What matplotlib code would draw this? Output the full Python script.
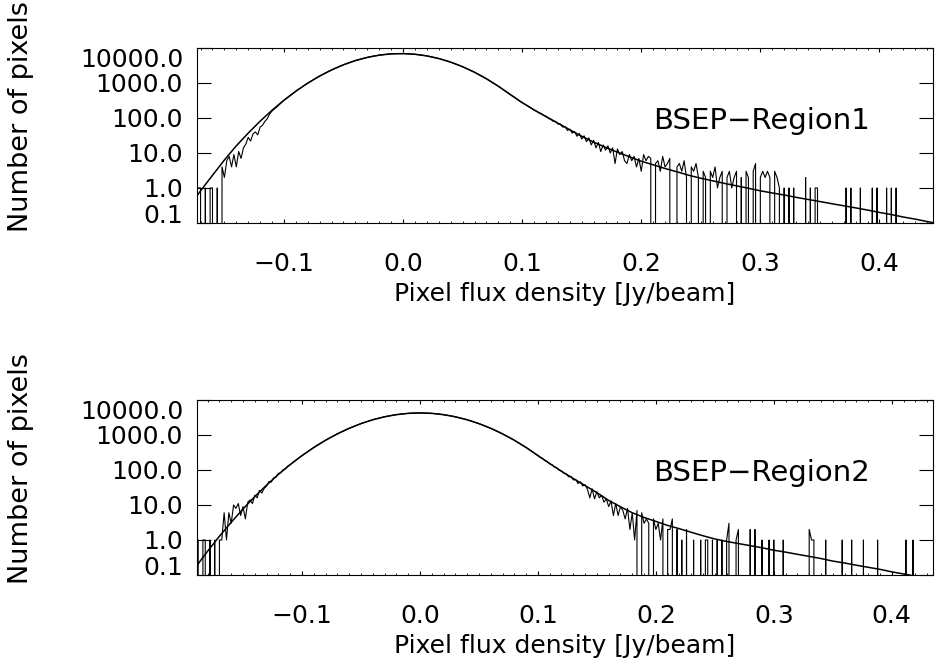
import numpy as np
import matplotlib
matplotlib.use("Agg")
import matplotlib.pyplot as plt
from matplotlib.ticker import MultipleLocator, NullFormatter

# histogram layout (bin width in Jy/beam, centre of the first bin)
bin_width = 0.002
first_bin1 = -0.172
first_bin2 = -0.188

# pixel counts per bin, BSEP-Region1
counts1 = [
    1, 1, 0, 1, 0, 1, 1, 0, 1, 0,
    4, 2, 6, 8, 4, 9, 4, 11, 7, 14,
    18, 28, 22, 35, 40, 33, 55, 62, 80, 95,
    130, 158, 182, 205, 240, 275, 318, 356, 402, 458,
    515, 580, 652, 720, 805, 895, 988, 1093, 1196, 1320,
    1445, 1578, 1718, 1866, 2023, 2188, 2360, 2535, 2723, 2911,
    3112, 3311, 3516, 3724, 3936, 4150, 4365, 4571, 4786, 4989,
    5188, 5383, 5572, 5754, 5929, 6081, 6237, 6368, 6501, 6607,
    6699, 6776, 6839, 6887, 6903, 6918, 6903, 6887, 6839, 6776,
    6699, 6607, 6501, 6368, 6237, 6081, 5929, 5754, 5572, 5383,
    5188, 4989, 4786, 4571, 4365, 4150, 3936, 3724, 3516, 3311,
    3112, 2911, 2723, 2535, 2360, 2188, 2023, 1866, 1718, 1578,
    1445, 1318, 1199, 1091, 991, 893, 807, 724, 650, 582,
    525, 466, 424, 378, 341, 303, 277, 249, 231, 205,
    188, 168, 157, 139, 134, 118, 112, 97, 93, 80,
    80, 67, 68, 55, 57, 44, 48, 37, 41, 30,
    36, 25, 31, 21, 27, 17, 23, 14, 20, 11,
    17, 12, 16, 10, 14, 5, 13, 9, 11, 6,
    5, 9, 6, 8, 4, 7, 3, 9, 6, 8,
    7, 0, 5, 6, 3, 8, 4, 5, 7, 0,
    0, 4, 5, 3, 6, 2, 0, 4, 3, 5,
    2, 0, 3, 2, 0, 3, 2, 4, 1, 2,
    3, 0, 2, 3, 1, 2, 3, 0, 2, 0,
    3, 2, 0, 3, 5, 0, 2, 3, 2, 3,
    2, 0, 3, 2, 1, 0, 1, 0, 1, 0,
    1, 0, 0, 0, 0, 2, 0, 1, 0, 1,
    1, 0, 0, 0, 0, 0, 0, 0, 0, 0,
    0, 0, 1, 0, 1, 0, 0, 0, 1, 0,
    0, 0, 0, 1, 0, 1, 0, 0, 0, 1,
    0, 1, 0, 1, 0, 0, 0, 0, 0, 0,
    0, 0, 0, 0, 0, 0, 0, 0, 0,
]

# pixel counts per bin, BSEP-Region2
counts2 = [
    1, 0, 1, 1, 0, 1, 0, 1, 0, 1,
    1, 6, 1, 6, 3, 10, 8, 11, 5, 9,
    4, 12, 14, 11, 19, 16, 26, 22, 30, 35,
    47, 45, 60, 62, 80, 83, 101, 108, 130, 140,
    161, 182, 205, 230, 257, 288, 321, 356, 396, 439,
    485, 535, 589, 646, 708, 773, 843, 916, 995, 1076,
    1164, 1256, 1351, 1449, 1552, 1660, 1770, 1879, 1995, 2113,
    2234, 2355, 2477, 2600, 2723, 2844, 2965, 3083, 3199, 3311,
    3420, 3532, 3631, 3724, 3811, 3890, 3972, 4036, 4093, 4150,
    4188, 4227, 4246, 4266, 4266, 4266, 4246, 4227, 4188, 4150,
    4093, 4036, 3972, 3890, 3811, 3724, 3631, 3532, 3420, 3311,
    3199, 3083, 2965, 2844, 2723, 2600, 2477, 2355, 2234, 2113,
    1995, 1879, 1770, 1660, 1552, 1449, 1351, 1256, 1164, 1076,
    995, 916, 843, 773, 708, 646, 589, 535, 485, 439,
    398, 355, 325, 286, 262, 228, 214, 186, 172, 150,
    141, 122, 116, 98, 94, 80, 78, 64, 66, 52,
    54, 41, 46, 35, 38, 28, 16, 29, 15, 24,
    16, 19, 12, 15, 9, 13, 5, 11, 5, 9,
    7, 4, 8, 2, 6, 1, 7, 0, 6, 3,
    4, 3, 0, 4, 2, 3, 1, 4, 0, 2,
    2, 4, 0, 2, 0, 1, 0, 2, 0, 0,
    1, 0, 0, 1, 0, 1, 1, 0, 1, 0,
    1, 0, 1, 0, 1, 3, 0, 0, 1, 2,
    0, 0, 0, 0, 2, 0, 2, 0, 0, 1,
    0, 0, 1, 0, 1, 0, 0, 0, 1, 0,
    0, 0, 0, 0, 0, 0, 0, 0, 0, 2,
    1, 1, 0, 0, 0, 0, 1, 0, 0, 0,
    0, 0, 0, 1, 0, 0, 0, 1, 0, 0,
    0, 0, 1, 0, 0, 0, 0, 0, 1, 0,
    0, 0, 0, 0, 0, 0, 0, 0, 0, 0,
    1, 0, 0, 1, 0, 0, 0, 0, 0, 0,
    0, 0,
]

# fitted model curves, sampled every 0.01 Jy/beam
fit_x1 = np.round(np.arange(-0.18, 0.455, 0.01), 2)
fit_y1 = [0.28, 0.83, 2.3, 6.3, 16, 37, 81, 166, 322, 582,
          991, 1578, 2360, 3311, 4365, 5383, 6237, 6776, 6903, 6607,
          5929, 4989, 3936, 2911, 2023, 1318, 807, 468, 275, 170,
          110, 71, 46, 30, 20.4, 14.5, 10.5, 7.8, 5.8, 4.6,
          3.6, 2.9, 2.3, 1.9, 1.6, 1.35, 1.15, 0.98, 0.83, 0.72,
          0.63, 0.54, 0.47, 0.41, 0.355, 0.31, 0.27, 0.234, 0.20, 0.174,
          0.148, 0.129, 0.11, 0.095]
fit_x2 = np.round(np.arange(-0.19, 0.435, 0.01), 2)
fit_y2 = [0.17, 0.48, 1.28, 3.2, 7.7, 17.4, 37, 75, 143, 257,
          439, 708, 1076, 1552, 2113, 2723, 3311, 3811, 4150, 4266,
          4150, 3811, 3311, 2723, 2113, 1552, 1076, 708, 439, 258,
          153, 92, 57, 36, 22.5, 13.5, 8.9, 6.0, 4.4, 3.4,
          2.6, 2.1, 1.66, 1.32, 1.07, 0.91, 0.79, 0.69, 0.60, 0.51,
          0.45, 0.39, 0.34, 0.295, 0.25, 0.22, 0.19, 0.166, 0.145, 0.123,
          0.107, 0.093, 0.081]

region_names = ["BSEP\u2212Region1", "BSEP\u2212Region2"]
x_ranges = [(-0.173, 0.445), (-0.189, 0.435)]

xticks = [-0.1, 0.0, 0.1, 0.2, 0.3, 0.4]
xtick_labels = ["\u22120.1", "0.0", "0.1", "0.2", "0.3", "0.4"]
yticks = [0.1, 1, 10, 100, 1000, 10000]
ytick_labels = ["0.1", "1.0", "10.0", "100.0", "1000.0", "10000.0"]

plt.rcParams['font.family'] = 'DejaVu Sans'
plt.rcParams['axes.linewidth'] = 0.8

fig = plt.figure(figsize=(9.35, 6.7), dpi=100)
rects = [[0.2107, 0.6672, 0.7872, 0.2612], [0.2107, 0.1418, 0.7872, 0.2612]]

panels = [(counts1, first_bin1, fit_x1, fit_y1), (counts2, first_bin2, fit_x2, fit_y2)]

for i, (counts, first, fx, fy) in enumerate(panels):
    ax = fig.add_axes(rects[i])
    centers = first + bin_width * np.arange(len(counts))
    # IDL-style: histogram drawn as a plain polyline through the bin centres
    ax.plot(centers, counts, color='black', lw=0.8)
    ax.plot(fx, fy, color='black', lw=1.1)

    ax.set_yscale('log')
    ax.set_ylim(0.1, 10000)
    ax.set_xlim(*x_ranges[i])

    ax.set_yticks(yticks)
    ax.set_yticklabels(ytick_labels)
    ax.yaxis.set_minor_formatter(NullFormatter())
    ax.set_xticks(xticks)
    ax.set_xticklabels(xtick_labels)
    ax.xaxis.set_minor_locator(MultipleLocator(0.01))

    ax.tick_params(axis='y', which='both', direction='in', left=True, right=True, labelsize=18, pad=10)
    ax.tick_params(axis='y', which='major', length=10, width=0.8)
    ax.tick_params(axis='y', which='minor', length=5, width=0.6)
    ax.tick_params(axis='x', which='both', direction='in', top=True, bottom=True, labelsize=18, pad=21)
    ax.tick_params(axis='x', which='major', length=3, width=0.8)
    ax.tick_params(axis='x', which='minor', length=1.5, width=0.6)

    # end labels sit inside the axis range, as in the original
    ylabels = ax.get_yticklabels()
    ylabels[0].set_va('baseline')
    ylabels[-1].set_va('top')

    ax.set_xlabel("Pixel flux density [Jy/beam]", fontsize=18, labelpad=4)
    ax.set_ylabel("Number of pixels", fontsize=19.5)
    ax.yaxis.set_label_coords(-0.222, 0.61)

    ax.text(0.6196, 0.585, region_names[i], transform=ax.transAxes,
            fontsize=21, ha='left', va='center')

fig.savefig("out.png", dpi=100)
